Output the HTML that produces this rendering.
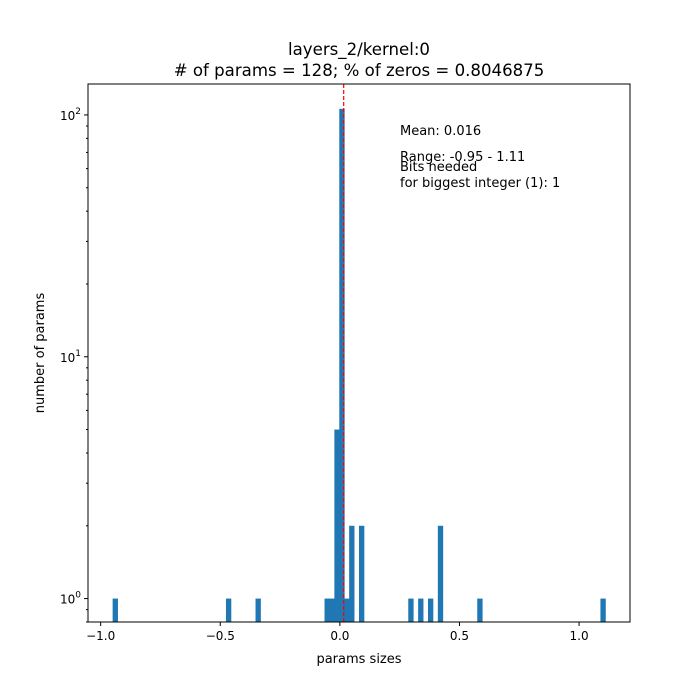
<!DOCTYPE html>
<html><head><meta charset="utf-8"><style>body{margin:0;background:#fff}svg{display:block;font-family:"DejaVu Sans","Liberation Sans",sans-serif}</style></head>
<body>
<svg id="c" width="700" height="700">
<text x="359" y="55" font-size="16.6" text-anchor="middle">layers_2/kernel:0</text>
<text x="359" y="76" font-size="16.6" text-anchor="middle"># of params = 128; % of zeros = 0.8046875</text>
<g id="bars"></g>
<g id="ax"></g>
<text x="400" y="135" font-size="13">Mean: 0.016</text>
<text x="400" y="161" font-size="13">Range: -0.95 - 1.11</text>
<text x="400" y="171" font-size="13">Bits needed</text>
<text x="400" y="187" font-size="13">for biggest integer (1): 1</text>
<text x="359" y="663" font-size="13" text-anchor="middle">params sizes</text>
<text x="44" y="353" font-size="13" text-anchor="middle" transform="rotate(-90 44 353)">number of params</text>
</svg>
<script>
const binIndex=[0,23,29,43,44,45,46,47,48,50,60,62,64,66,74,99];
const binCount=[1,1,1,1,1,5,106,1,2,2,1,1,1,2,1,1];
const xTicks=[-1.0,-0.5,0.0,0.5,1.0];
const xTickLabels=["−1.0","−0.5","0.0","0.5","1.0"];
const meanValue=0.016;
const histMin=-0.95, histMax=1.11, nBins=100;
const L=88,R=630,T=84,B=622;
const xMin=histMin-0.05*(histMax-histMin),xMax=histMax+0.05*(histMax-histMin);
const yMinLog=Math.log10(0.8),yMaxLog=2.128;
const X=v=>L+(v-xMin)/(xMax-xMin)*(R-L);
const Y=v=>B-(Math.log10(v)-yMinLog)/(yMaxLog-yMinLog)*(B-T);
const NS="http://www.w3.org/2000/svg";
const bars=document.getElementById('bars'),ax=document.getElementById('ax');
function mk(t,a,p){const e=document.createElementNS(NS,t);for(const k in a)e.setAttribute(k,a[k]);p.appendChild(e);return e;}
const w=(histMax-histMin)/nBins;
binIndex.forEach((k,i)=>{const x0=X(histMin+k*w),x1=X(histMin+(k+1)*w),y=Y(binCount[i]);
const r=mk('rect',{x:x0,y:y,width:x1-x0+0.4,height:B-y,fill:'#1f77b4'},bars);

});
const ml=mk('line',{x1:X(meanValue),x2:X(meanValue),y1:T,y2:B,stroke:'#ff0000','stroke-width':1.2,'stroke-dasharray':'4,2'},ax);


const fr=mk('rect',{x:L,y:T,width:R-L,height:B-T,fill:'none',stroke:'#000','stroke-width':1},ax);


xTicks.forEach((v,i)=>{const x=X(v);mk('line',{x1:x,x2:x,y1:B,y2:B+4,stroke:'#000'},ax);
const t=mk('text',{x:x,y:B+18,'font-size':12,'text-anchor':'middle'},ax);t.textContent=xTickLabels[i];

});
[0,1,2].forEach(p=>{const y=Y(Math.pow(10,p));mk('line',{x1:L-4,x2:L,y1:y,y2:y,stroke:'#000'},ax);
const t=mk('text',{x:L-7,y:y+5,'font-size':12,'text-anchor':'end'},ax);t.innerHTML='10<tspan dy="-6" font-size="9">'+p+'</tspan>';

});
for(let p=-1;p<=2;p++)for(let m=2;m<=9;m++){const v=m*Math.pow(10,p);if(v<0.8||Math.log10(v)>yMaxLog)continue;const y=Y(v);mk('line',{x1:L-2,x2:L,y1:y,y2:y,stroke:'#000'},ax);}
</script>
</body></html>
